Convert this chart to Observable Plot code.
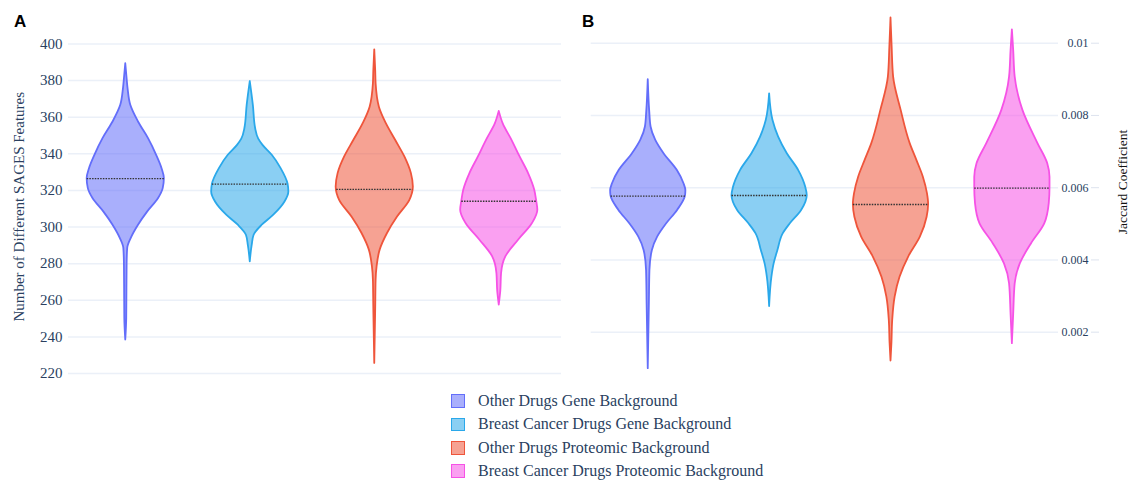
<!DOCTYPE html>
<html>
<head>
<meta charset="utf-8">
<script src="https://cdn.jsdelivr.net/npm/d3@7"></script>
<script src="https://cdn.jsdelivr.net/npm/@observablehq/plot@0.6"></script>
<style>
  body { margin: 0; background: #fff; }
  #fig { position: relative; width: 1132px; height: 481px; overflow: hidden;
         font-family: "Liberation Serif", "Times New Roman", serif; color: #2a3f5f; }
  .panel { position: absolute; top: 0; }
  .tag { position: absolute; top: 12px; font: bold 17px "Liberation Sans", Arial, sans-serif; color: #000; line-height: 1.15; }
  #legend { position: absolute; left: 451px; top: 389.5px; }
  .row { display: flex; align-items: center; height: 23.3px; font-size: 16px; white-space: nowrap; }
  .sw { box-sizing: border-box; width: 13.6px; height: 13.6px; border: 1.6px solid; margin-right: 13.5px; }
</style>
</head>
<body>
<div id="fig">
  <div id="panelA" class="panel" style="left:0"></div>
  <div id="panelB" class="panel" style="left:570px"></div>
  <div class="tag" style="left:14px">A</div>
  <div class="tag" style="left:582px">B</div>
  <div id="legend"></div>
</div>
<script>
// Series (one violin per series in each panel)
const series = [
  "Other Drugs Gene Background",
  "Breast Cancer Drugs Gene Background",
  "Other Drugs Proteomic Background",
  "Breast Cancer Drugs Proteomic Background"
];
const lineColors = ["#636efa", "#2aa8ea", "#ef553b", "#f652e6"];

// Panel A: number of different SAGES features.
// Violin outlines as [value, relative density width] pairs.
const featureTicks = [220, 240, 260, 280, 300, 320, 340, 360, 380, 400];
const featureMeans = [326.5, 323.4, 320.6, 314.1];
const otherGeneFeatures = [[238.3, 0], [250, 0.025], [266.5, 0.03], [280, 0.035], [288.3, 0.05], [293.7, 0.14], [301, 0.33], [308.3, 0.57], [315.6, 0.85], [321, 0.97], [326.5, 1], [331.9, 0.94], [339.2, 0.8], [348.3, 0.59], [357.4, 0.33], [366.5, 0.13], [375.5, 0.06], [382, 0.03], [389.2, 0]];
const breastGeneFeatures = [[281, 0], [290, 0.05], [295.5, 0.1], [301, 0.31], [306.5, 0.61], [313.7, 0.9], [319.2, 1], [323.4, 0.98], [331.9, 0.8], [339.2, 0.57], [344.6, 0.33], [348, 0.22], [353.7, 0.14], [366.5, 0.08], [379.5, 0]];
const otherProtFeatures = [[225.5, 0], [256.4, 0.025], [271, 0.035], [278.3, 0.06], [287.4, 0.14], [296.5, 0.33], [305.5, 0.59], [314.6, 0.91], [321.9, 1], [329.2, 0.95], [338.3, 0.78], [347.4, 0.54], [356.5, 0.3], [365.5, 0.12], [378.3, 0.035], [385, 0.025], [396.8, 0]];
const breastProtFeatures = [[257.4, 0], [265, 0.04], [274.6, 0.06], [283.7, 0.17], [292.8, 0.5], [301.9, 0.86], [309.2, 1], [314.1, 0.97], [320.1, 0.92], [329.2, 0.76], [338.3, 0.54], [347.4, 0.33], [356.5, 0.1], [363.2, 0]];

// Panel B: Jaccard coefficient.
const jaccardTicks = [0.002, 0.004, 0.006, 0.008, 0.01];
const jaccardMeans = [0.005765, 0.005784, 0.005535, 0.005986];
const otherGeneJaccard = [[0.00099, 0], [0.00279, 0.03], [0.00371, 0.045], [0.00426, 0.11], [0.00463, 0.25], [0.005, 0.49], [0.00537, 0.78], [0.00577, 0.99], [0.00592, 1], [0.00611, 0.95], [0.00648, 0.77], [0.00694, 0.42], [0.00731, 0.2], [0.00768, 0.075], [0.0081, 0.04], [0.00899, 0]];
const breastGeneJaccard = [[0.00271, 0], [0.00352, 0.06], [0.00389, 0.12], [0.00426, 0.22], [0.00472, 0.36], [0.005, 0.55], [0.00537, 0.85], [0.00578, 1], [0.00601, 0.96], [0.00648, 0.77], [0.00694, 0.47], [0.0074, 0.24], [0.00786, 0.09], [0.0086, 0]];
const otherProtJaccard = [[0.0012, 0], [0.0017, 0.025], [0.00232, 0.045], [0.00297, 0.11], [0.00352, 0.24], [0.00408, 0.47], [0.00463, 0.78], [0.00518, 0.96], [0.00554, 1], [0.00583, 0.97], [0.00629, 0.86], [0.00675, 0.69], [0.00722, 0.51], [0.00814, 0.27], [0.00906, 0.07], [0.0099, 0.03], [0.0107, 0]];
const breastProtJaccard = [[0.00168, 0], [0.0025, 0.035], [0.00334, 0.075], [0.00389, 0.21], [0.00445, 0.51], [0.005, 0.86], [0.00556, 0.98], [0.00599, 1], [0.00629, 1], [0.00666, 0.94], [0.00722, 0.68], [0.00814, 0.28], [0.00906, 0.075], [0.0098, 0.035], [0.01037, 0]];

const HALF = 0.31;          // maximum violin half-width, in category units
const gridColor = "#ebf0f8";
const textColor = "#2a3f5f";

// width of an outline at a given value (for the mean line)
function widthAt(profile, v) {
  for (let j = 1; j < profile.length; j++) {
    const [v0, w0] = profile[j - 1], [v1, w1] = profile[j];
    if (v >= v0 && v <= v1) return w0 + (w1 - w0) * (v - v0) / (v1 - v0);
  }
  return 0;
}

function violinMarks(profiles, means) {
  const rows = profiles.flatMap((p, i) => p.map(([v, w]) => ({k: series[i], i: i + 1, v, w})));
  const meanRows = means.map((m, i) => ({k: series[i], i: i + 1, m, w: widthAt(profiles[i], m)}));
  return [
    Plot.areaX(rows, {
      y: "v", x1: d => d.i - HALF * d.w, x2: d => d.i + HALF * d.w,
      z: "k", fill: "k", stroke: "k", fillOpacity: 0.55, strokeWidth: 1.8,
      curve: "monotone-y"
    }),
    Plot.ruleY(meanRows, {
      y: "m", x1: d => d.i - HALF * d.w, x2: d => d.i + HALF * d.w,
      stroke: "#333", strokeWidth: 1.3, strokeDasharray: "1.5,1.2"
    })
  ];
}

const color = {domain: series, range: lineColors};

const plotA = Plot.plot({
  width: 570, height: 385,
  marginLeft: 68, marginRight: 9, marginTop: 43.5, marginBottom: 12,
  style: {fontFamily: "Liberation Serif, serif", background: "transparent", color: textColor},
  x: {domain: [0.54, 4.5], axis: null},
  y: {domain: [220, 400], axis: null},
  color,
  marks: [
    Plot.gridY(featureTicks, {stroke: gridColor, strokeOpacity: 1, strokeWidth: 1.5}),
    Plot.axisY(featureTicks, {tickSize: 0, tickPadding: 6, fontSize: 15, fill: textColor, label: null}),
    Plot.text(["Number of Different SAGES Features"], {
      frameAnchor: "left", textAnchor: "middle", rotate: -90, dx: -49, dy: -2, fontSize: 15, fill: textColor
    }),
    ...violinMarks([otherGeneFeatures, breastGeneFeatures, otherProtFeatures, breastProtFeatures], featureMeans)
  ]
});
document.getElementById("panelA").append(plotA);

const plotB = Plot.plot({
  width: 562, height: 385,
  marginLeft: 20.7, marginRight: 74, marginTop: 6.6, marginBottom: 10,
  style: {fontFamily: "Liberation Serif, serif", background: "transparent", color: textColor},
  x: {domain: [0.53, 4.38], axis: null},
  y: {domain: [0.0008, 0.011], axis: null},
  color,
  marks: [
    Plot.gridY(jaccardTicks, {stroke: gridColor, strokeOpacity: 1, strokeWidth: 1.5}),
    Plot.axisY(jaccardTicks, {anchor: "right", tickSize: 0, tickPadding: 30, textAnchor: "end",
      fontSize: 12, fill: textColor, tickFormat: d3.format("~g"), label: null}),
    Plot.axisY(jaccardTicks, {anchor: "right", tickSize: 8, dx: 32, stroke: "#dde3ee",
      tickFormat: () => "", label: null}),
    Plot.text(["Jaccard Coefficient"], {
      frameAnchor: "right", textAnchor: "middle", rotate: -90, dx: 64.5, dy: -9.3, fontSize: 13.5, fill: "#111"
    }),
    ...violinMarks([otherGeneJaccard, breastGeneJaccard, otherProtJaccard, breastProtJaccard], jaccardMeans)
  ]
});
document.getElementById("panelB").append(plotB);

// legend
const legend = document.getElementById("legend");
series.forEach((name, i) => {
  const row = document.createElement("div");
  row.className = "row";
  const sw = document.createElement("span");
  sw.className = "sw";
  sw.style.borderColor = lineColors[i];
  const c = d3.color(lineColors[i]); c.opacity = 0.55;
  sw.style.background = c.formatRgb();
  const label = document.createElement("span");
  label.textContent = name;
  row.append(sw, label);
  legend.append(row);
});
</script>
</body>
</html>
